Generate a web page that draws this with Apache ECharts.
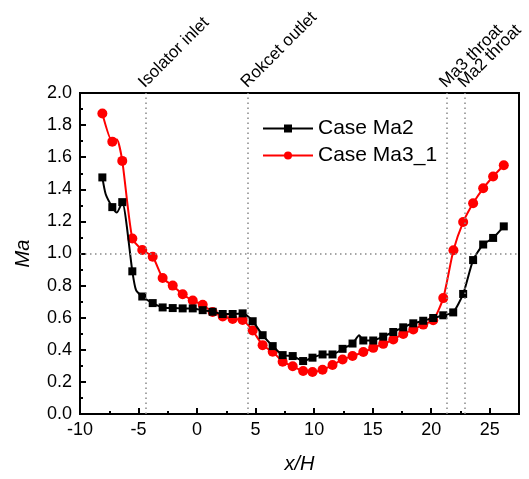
<!DOCTYPE html>
<html>
<head>
<meta charset="utf-8">
<script src="https://cdn.jsdelivr.net/npm/echarts@6/dist/echarts.min.js"></script>
<style>
  html, body { margin: 0; padding: 0; background: #fff; }
  #main { width: 529px; height: 479px; }
</style>
</head>
<body>
<div id="main"></div>
<script>
// Case Ma2 (black squares); x values listed in ma2Plain are drawn without a marker
var ma2X = [-8.09, -7.81, -7.24, -6.85, -6.39, -5.53, -5.22, -4.68, -3.79, -2.94, -2.08, -1.23, -0.37, 0.48, 1.33, 2.19, 3.04, 3.89, 4.75, 5.6, 6.46, 7.31, 8.17, 9.06, 9.86, 10.72, 11.57, 12.43, 13.28, 13.85, 14.2, 15.05, 15.9, 16.76, 17.61, 18.47, 19.32, 20.17, 21.03, 21.88, 22.73, 23.58, 24.44, 25.29, 26.2];
var ma2Y = [1.474, 1.371, 1.289, 1.255, 1.32, 0.889, 0.773, 0.732, 0.691, 0.664, 0.66, 0.658, 0.658, 0.647, 0.637, 0.623, 0.623, 0.627, 0.578, 0.491, 0.423, 0.367, 0.361, 0.33, 0.351, 0.371, 0.371, 0.406, 0.439, 0.49, 0.458, 0.458, 0.482, 0.511, 0.54, 0.565, 0.581, 0.598, 0.615, 0.633, 0.748, 0.959, 1.056, 1.097, 1.169];
var ma2Plain = [-7.81, -6.85, -5.22, 13.85];

// Case Ma3_1 (red circles)
var ma3X = [-8.09, -7.24, -6.85, -6.39, -5.53, -4.68, -3.79, -2.94, -2.08, -1.23, -0.37, 0.48, 1.33, 2.19, 3.04, 3.89, 4.75, 5.6, 6.46, 7.31, 8.17, 9.06, 9.86, 10.72, 11.57, 12.43, 13.28, 14.2, 15.05, 15.9, 16.76, 17.61, 18.47, 19.32, 20.17, 21.03, 21.9, 22.73, 23.58, 24.44, 25.29, 26.2];
var ma3Y = [1.872, 1.697, 1.71, 1.577, 1.093, 1.022, 0.98, 0.847, 0.8, 0.746, 0.707, 0.68, 0.635, 0.608, 0.592, 0.586, 0.52, 0.429, 0.388, 0.326, 0.297, 0.268, 0.262, 0.276, 0.305, 0.34, 0.361, 0.386, 0.412, 0.437, 0.464, 0.499, 0.526, 0.557, 0.584, 0.722, 1.02, 1.196, 1.313, 1.406, 1.48, 1.55];
var ma3Plain = [-6.85];

// reference positions
var markerX = [-4.4, 4.35, 21.3, 22.9];
var markerNames = ['Isolator inlet', 'Rokcet outlet', 'Ma3 throat', 'Ma2 throat'];
var refY = 1.0;

var font = 'Liberation Sans, Arial, sans-serif';

function buildData(xs, ys, plain) {
  return xs.map(function (x, i) {
    var item = { value: [x, ys[i]] };
    if (plain.indexOf(x) >= 0) item.symbol = 'none';
    return item;
  });
}

var chart = echarts.init(document.getElementById('main'));

var option = {
  animation: false,
  backgroundColor: '#fff',
  grid: {
    left: 80, right: 10, top: 93, bottom: 62,
    show: true, borderColor: '#000', borderWidth: 2
  },
  legend: {
    orient: 'vertical',
    left: 257, top: 113,
    itemWidth: 50, itemHeight: 10, itemGap: 6,
    textStyle: { fontFamily: font, fontSize: 21, color: '#000' },
    data: ['Case Ma2', 'Case Ma3_1']
  },
  xAxis: {
    type: 'value', min: -10, max: 27.5, interval: 5,
    name: 'x/H', nameLocation: 'middle', nameGap: 40,
    nameTextStyle: { fontFamily: font, fontSize: 20, fontStyle: 'italic', color: '#000' },
    axisLine: { onZero: false, lineStyle: { color: '#000', width: 2 } },
    axisTick: { inside: true, length: 6, lineStyle: { color: '#000', width: 2 } },
    minorTick: { show: true, splitNumber: 2, length: 3, lineStyle: { color: '#000', width: 2 } },
    axisLabel: { fontFamily: font, fontSize: 18, color: '#000', margin: 7, showMaxLabel: false },
    splitLine: { show: false }
  },
  yAxis: {
    type: 'value', min: 0, max: 2, interval: 0.2,
    name: 'Ma', nameLocation: 'middle', nameGap: 47,
    nameTextStyle: { fontFamily: font, fontSize: 20, fontStyle: 'italic', color: '#000' },
    axisLine: { onZero: false, lineStyle: { color: '#000', width: 2 } },
    axisTick: { inside: true, length: 6, lineStyle: { color: '#000', width: 2 } },
    minorTick: { show: true, splitNumber: 2, length: 3, lineStyle: { color: '#000', width: 2 } },
    axisLabel: {
      fontFamily: font, fontSize: 18, color: '#000', margin: 8,
      formatter: function (v) { return v.toFixed(1); }
    },
    splitLine: { show: false }
  },
  series: [
    {
      name: 'Case Ma2', type: 'line',
      data: buildData(ma2X, ma2Y, ma2Plain),
      symbol: 'rect', symbolSize: 8, smooth: 0.2,
      color: '#000',
      lineStyle: { color: '#000', width: 2 },
      itemStyle: { color: '#000' },
      z: 3,
      markLine: {
        silent: true, symbol: 'none',
        label: { show: false },
        lineStyle: { color: '#888', width: 1.5, type: [1.5, 3.5] },
        data: markerX.map(function (x) { return { xAxis: x }; }).concat([{ yAxis: refY }])
      }
    },
    {
      name: 'Case Ma3_1', type: 'line',
      data: buildData(ma3X, ma3Y, ma3Plain),
      symbol: 'circle', symbolSize: 10, smooth: 0.2,
      color: '#ff0000',
      lineStyle: { color: '#ff0000', width: 2 },
      itemStyle: { color: '#ff0000' },
      z: 2
    }
  ]
};

chart.setOption(option);

// rotated annotations above the dotted reference lines
var topY = chart.convertToPixel({ yAxisIndex: 0 }, 2);
chart.setOption({
  graphic: markerNames.map(function (name, i) {
    var px = chart.convertToPixel({ xAxisIndex: 0 }, markerX[i]);
    return {
      type: 'text',
      x: px + 2, y: topY - 2,
      rotation: Math.PI / 4,
      style: {
        text: name, fill: '#000',
        font: '17px ' + font,
        textAlign: 'left', textVerticalAlign: 'bottom'
      }
    };
  })
});
</script>
</body>
</html>
